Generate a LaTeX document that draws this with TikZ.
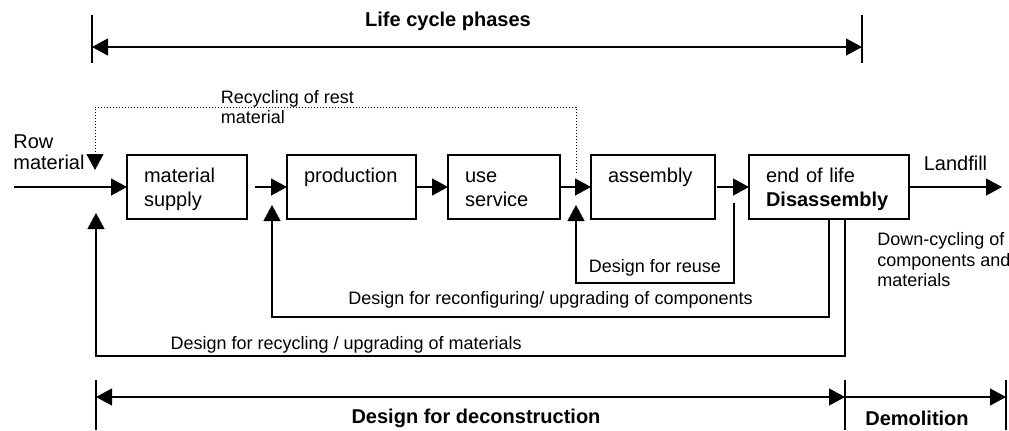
\documentclass[tikz,border=0pt]{standalone}
\usepackage{fontspec}
\setmainfont{Liberation Sans}
\usetikzlibrary{positioning,arrows.meta}

\begin{document}
\begin{tikzpicture}[
      x=0.5pt, y=-0.5pt,
      box/.style={draw, line width=0.6pt, outer sep=0pt, inner xsep=8.5pt, inner ysep=0pt, text height=13.5pt, text depth=18.5pt, align=left, font=\fontsize{10}{12}\selectfont},
      txt/.style={inner sep=1pt, align=left, font=\fontsize{10}{10.5}\selectfont},
      lbl/.style={inner sep=1pt, align=left, font=\fontsize{9}{10.3}\selectfont},
      head/.style={inner sep=1pt, font=\bfseries\fontsize{10}{12}\selectfont},
      flow/.style={->, line width=0.6pt},
      tick/.style={line width=0.6pt},
      >={Triangle[length=8pt,width=8.5pt]}
    ]
    \useasboundingbox (0,0) rectangle (1009,430);

    % phases
    \node[box, text width=43pt, anchor=north west] (supply) at (127,155) {material\\supply};
    \node[box, text width=47.5pt, right=20pt of supply] (prod) {production};
    \node[box, text width=39pt, right=16pt of prod] (use) {use\\service};
    \node[box, text width=45pt, right=15.5pt of use] (asm) {assembly};
    \node[box, text width=63pt, right=17pt of asm] (eol) {end of life\\\textbf{Disassembly}};

    % main flow
    \coordinate (rawin) at (14,187);
    \coordinate (landfill) at (1002,187);
    \node[txt, anchor=west] (rawlbl) at (11,152) {Row\\material};
    \draw[flow] (rawin) -- (supply);
    \draw[flow] ([xshift=4pt]supply.east) -- (prod);
    \draw[flow] (prod) -- (use);
    \draw[flow] (use) -- (asm);
    \draw[flow] ([xshift=1pt]asm.east) -- (eol);
    \draw[flow] (eol) -- (landfill) node[txt, midway, above=7pt] {Landfill};
    \node[lbl, anchor=north west] (down) at (875,230) {Down-cycling of\\components and\\materials};

    % feedback loops
    \coordinate (restA) at (576,173);
    \coordinate (restB) at (95,170);
    \draw[flow, dash pattern=on 0.6pt off 0.9pt, line width=0.5pt] (restA) -- ++(0,-66) -| (restB)
      node[lbl, pos=0.3] {Recycling of rest\\material};
    \coordinate (reuseA) at (734,203);
    \coordinate (reuseB) at (576,205);
    \draw[flow] (reuseA) -- ++(0,80) -| (reuseB) node[lbl, pos=0.25, above=2pt] {Design for reuse};
    \coordinate (confB) at (272,205);
    \draw[flow] ([xshift=40pt]eol.south west) -- ++(0,98) -| (confB)
      node[lbl, pos=0.25, above=3pt] {Design for reconfiguring/ upgrading of components};
    \coordinate (cycB) at (96,213);
    \draw[flow] ([xshift=48pt]eol.south west) -- ++(0,137) -| (cycB)
      node[lbl, pos=0.333, above=0pt] {Design for recycling / upgrading of materials};

    % life cycle span
    \coordinate (lcL) at (92,47);
    \coordinate (lcR) at (862,47);
    \draw[tick] ([yshift=16pt]lcL) -- ([yshift=-8pt]lcL);
    \draw[tick] ([yshift=16pt]lcR) -- ([yshift=-8pt]lcR);
    \draw[flow, <->] (lcL) -- (lcR);
    \node[head] (lctitle) at (448,21) {Life cycle phases};

    % deconstruction / demolition span
    \coordinate (ddL) at (96,397);
    \coordinate (ddM) at (845,397);
    \coordinate (ddR) at (1006,397);
    \draw[tick] ([yshift=8.5pt]ddL) -- ([yshift=-16.5pt]ddL);
    \draw[tick] ([yshift=8.5pt]ddM) -- ([yshift=-16.5pt]ddM);
    \draw[tick] ([yshift=8.5pt]ddR) -- ([yshift=-16.5pt]ddR);
    \draw[flow, <->] (ddL) -- (ddM);
    \draw[flow] (ddM) -- (ddR);
    \node[head] (dfd) at (476,418) {Design for deconstruction};
    \node[head] (demo) at (917,418) {Demolition};
\end{tikzpicture}
\end{document}
